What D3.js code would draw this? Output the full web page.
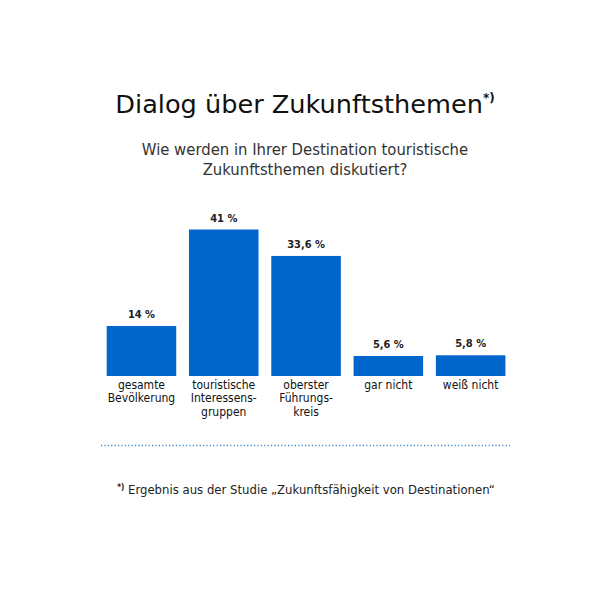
<!DOCTYPE html>
<html>
<head>
<meta charset="utf-8">
<script src="https://cdn.jsdelivr.net/npm/d3@7"></script>
<style>
  body { margin: 0; background: #fff; }
  svg { display: block; }
  text { font-family: "DejaVu Sans Condensed", "DejaVu Sans", sans-serif; }
</style>
</head>
<body>
<script>
// data
const categories = ["gesamte Bevölkerung", "touristische Interessens-gruppen", "oberster Führungs-kreis", "gar nicht", "weiß nicht"];
const catLines = [["gesamte", "Bevölkerung"], ["touristische", "Interessens-", "gruppen"], ["oberster", "Führungs-", "kreis"], ["gar nicht"], ["weiß nicht"]];
const values = [14, 41, 33.6, 5.6, 5.8];
const valueLabels = ["14 %", "41 %", "33,6 %", "5,6 %", "5,8 %"];

const width = 600, height = 600;
const baseline = 376;
const blue = "#0066cc";

const svg = d3.select("body").append("svg")
    .attr("width", width)
    .attr("height", height);

// title + superscript
const title = svg.append("text")
    .attr("x", 305)
    .attr("y", 113)
    .attr("text-anchor", "middle")
    .style("font-family", "'DejaVu Sans', sans-serif")
    .style("font-size", "25.6px")
    .style("fill", "#111");
title.append("tspan").text("Dialog über Zukunftsthemen");
title.append("tspan")
    .attr("dy", -11)
    .style("font-size", "12px")
    .style("font-weight", "bold")
    .text("*)");

// subtitle
svg.append("g")
    .selectAll("text")
    .data(["Wie werden in Ihrer Destination touristische", "Zukunftsthemen diskutiert?"])
    .join("text")
    .attr("x", 305)
    .attr("y", (d, i) => 155 + i * 20)
    .attr("text-anchor", "middle")
    .style("font-size", "16.5px")
    .style("fill", "#333")
    .text(d => d);

const x = d3.scaleBand()
    .domain(categories)
    .range([100.3, 511.8])
    .paddingInner(0.155)
    .paddingOuter(0.0775);

const y = d3.scaleLinear()
    .domain([0, 41])
    .range([baseline, 229.5]);

// bars
svg.append("g")
    .selectAll("rect")
    .data(values)
    .join("rect")
    .attr("x", (d, i) => x(categories[i]))
    .attr("y", d => y(d))
    .attr("width", x.bandwidth())
    .attr("height", d => baseline - y(d))
    .attr("fill", blue);

// value labels
svg.append("g")
    .selectAll("text")
    .data(values)
    .join("text")
    .attr("x", (d, i) => x(categories[i]) + x.bandwidth() / 2)
    .attr("y", d => y(d) - 8)
    .attr("text-anchor", "middle")
    .style("font-size", "11px")
    .style("font-weight", "bold")
    .style("fill", "#222")
    .text((d, i) => valueLabels[i]);

// category labels
const cat = svg.append("g")
    .selectAll("text")
    .data(catLines)
    .join("text")
    .attr("x", (d, i) => x(categories[i]) + x.bandwidth() / 2)
    .attr("y", 389)
    .attr("text-anchor", "middle")
    .style("font-size", "12px")
    .style("fill", "#111");
cat.selectAll("tspan")
    .data(d => d)
    .join("tspan")
    .attr("x", function() { return this.parentNode.getAttribute("x"); })
    .attr("dy", (d, i) => i === 0 ? 0 : 13.3)
    .text(d => d);

// dotted separator
svg.append("line")
    .attr("x1", 101)
    .attr("x2", 510)
    .attr("y1", 445.5)
    .attr("y2", 445.5)
    .attr("stroke", "#3d85c6")
    .attr("stroke-width", 1.3)
    .attr("stroke-dasharray", "1.2,2.2");

// footnote
const foot = svg.append("text")
    .attr("x", 306)
    .attr("y", 494)
    .attr("text-anchor", "middle")
    .style("font-size", "13px")
    .style("fill", "#222");
foot.append("tspan")
    .attr("dy", -4)
    .style("font-size", "8px")
    .style("font-weight", "bold")
    .text("*)");
foot.append("tspan")
    .attr("dy", 4)
    .text(" Ergebnis aus der Studie „Zukunftsfähigkeit von Destinationen“");
</script>
</body>
</html>
